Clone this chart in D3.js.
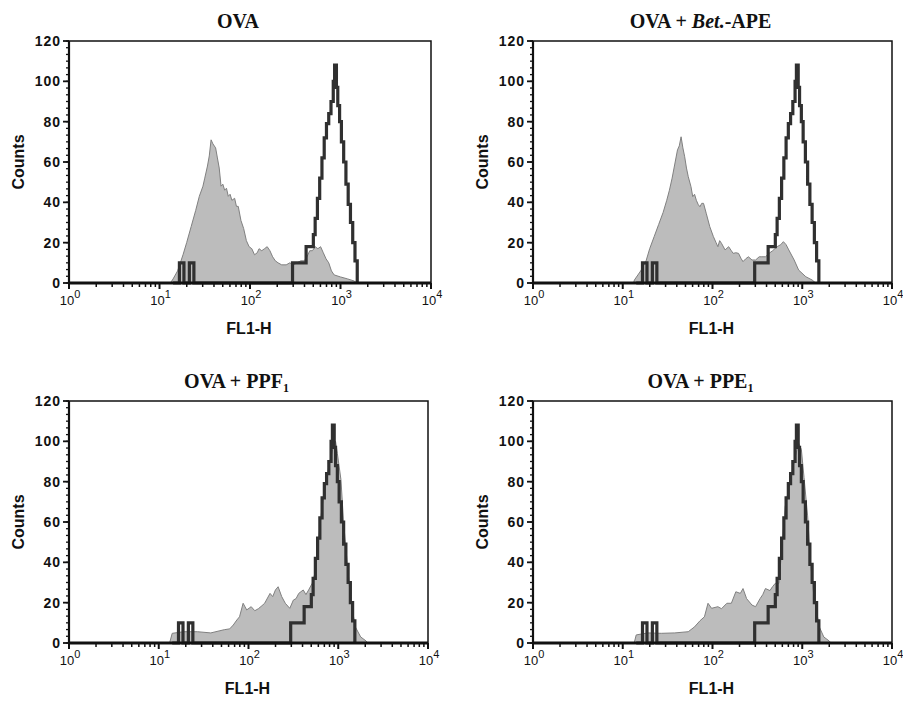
<!DOCTYPE html>
<html><head><meta charset="utf-8">
<script src="https://cdn.jsdelivr.net/npm/d3@7"></script>
<style>
html,body{margin:0;padding:0;background:#fff;}
svg{display:block;}
</style></head>
<body>
<svg id="chart" width="903" height="701"></svg>
<script>
// ---------- DATA (FL1-H positions given as log10 of channel value) ----------
const xTickValues = [1, 10, 100, 1000, 10000];
const xTickExps = ["0", "1", "2", "3", "4"];
const yTickValues = [0, 20, 40, 60, 80, 100, 120];

// black open histogram (control), step bins: log10 start of each bin and counts
const ctrlLogX = [1.15,1.22,1.27,1.33,1.38,2.47,2.62,2.70,2.72,2.745,2.77,2.795,2.82,2.845,2.87,2.895,2.92,2.935,2.955,2.97,2.99,3.01,3.035,3.06,3.085,3.11,3.135,3.16,3.185];
const ctrlCounts = [0,10,0,10,0,10,18,24,32,42,52,62,72,79,84,90,100,108,97,88,80,70,60,49,39,30,20,11,0];

// gray filled histograms
const ovaLogX   = [1.12,1.15,1.20,1.26,1.30,1.35,1.40,1.44,1.48,1.50,1.53,1.55,1.57,1.59,1.62,1.64,1.66,1.68,1.70,1.72,1.74,1.76,1.78,1.80,1.83,1.85,1.87,1.90,1.93,1.96,1.99,2.02,2.05,2.08,2.10,2.13,2.16,2.19,2.22,2.25,2.28,2.31,2.35,2.40,2.44,2.48,2.52,2.56,2.60,2.63,2.66,2.69,2.72,2.75,2.78,2.81,2.84,2.87,2.90,2.93,3.00,3.08,3.15,3.18];
const ovaCounts = [0,2,6,14,20,28,36,43,48,52,58,63,71,69,67,62,57,48,49,46,47,43,44,41,42,38,38,31,27,21,18,17,14,15,17,16,17,18,16,13,11,10,9,9,10,9,10,11,11,13,16,16,18,17,18,15,12,10,6,4,3,2,1,0];

const betLogX   = [1.12,1.13,1.20,1.26,1.30,1.35,1.40,1.45,1.49,1.52,1.55,1.58,1.61,1.63,1.65,1.67,1.69,1.71,1.73,1.76,1.78,1.80,1.82,1.84,1.86,1.88,1.90,1.93,1.97,2.01,2.04,2.06,2.08,2.10,2.14,2.18,2.21,2.23,2.26,2.29,2.32,2.34,2.37,2.40,2.44,2.48,2.52,2.55,2.59,2.63,2.67,2.72,2.76,2.79,2.82,2.85,2.91,2.96,3.04,3.11,3.15];
const betCounts = [0,1.5,6,11,17,23,29,35,41,46,52,59,66,68,72.5,67,62.6,57,52.7,47.8,42.8,44,41,39,37.8,39.5,39.5,34.6,27.9,23,20,18,21,19.7,16.4,18,16,14.7,15,14.7,12,10.6,12,13,11.4,11.4,13,13,13,14.7,16,18,19,20.5,19,16.4,11.4,6.4,3.1,1.5,0];

const ppfLogX   = [1.12,1.13,1.15,1.28,1.43,1.58,1.73,1.79,1.83,1.87,1.90,1.94,1.98,2.03,2.07,2.11,2.15,2.18,2.24,2.27,2.30,2.33,2.37,2.41,2.46,2.50,2.53,2.56,2.61,2.64,2.67,2.71,2.74,2.78,2.82,2.86,2.91,2.95,2.97,2.99,3.03,3.06,3.10,3.14,3.19,3.25,3.31,3.33];
const ppfCounts = [0,1.5,4.8,5.6,5.6,5,6.6,7,8.9,11.4,13,19.7,16.4,18,16,17,18.5,19.7,24.6,23,26.3,27.9,23,19.7,17.2,21.3,22,24.6,26.3,24,26.3,29.6,34.6,51,67.6,79,90.7,98,100,94,81,59.5,39.7,21,8,3,1,0];

const ppeLogX   = [1.12,1.13,1.15,1.28,1.43,1.58,1.73,1.80,1.86,1.91,1.95,1.99,2.06,2.10,2.16,2.21,2.26,2.31,2.34,2.38,2.44,2.48,2.53,2.56,2.59,2.64,2.67,2.70,2.74,2.78,2.81,2.87,2.92,2.96,2.99,3.02,3.06,3.09,3.13,3.19,3.24,3.30,3.32];
const ppeCounts = [0,0.5,4,5,4.8,5,5.6,8,11,13,19.7,17.2,18,17,19.7,19.7,25.4,24.6,27,22,18.8,18,22,24,27,26,28,29.6,29.6,51,67.6,81,92,99,96,82,63,41,23,8,3,1,0];

const titles = [
  [{t:"OVA"}],
  [{t:"OVA + "},{t:"Bet.",it:true},{t:"-APE"}],
  [{t:"OVA + PPF"},{t:"1",sub:true}],
  [{t:"OVA + PPE"},{t:"1",sub:true}]
];
const grayLogX = [ovaLogX, betLogX, ppfLogX, ppeLogX];
const grayCounts = [ovaCounts, betCounts, ppfCounts, ppeCounts];
const xLabel = "FL1-H";
const yLabel = "Counts";

// ---------- LAYOUT ----------
const panels = [
  {left:69,  top:41,  w:362, h:242},
  {left:533, top:41,  w:359, h:242},
  {left:69,  top:401, w:359, h:242},
  {left:533, top:401, w:359, h:242}
];

const svg = d3.select("#chart");

panels.forEach((p, i) => {
  const g = svg.append("g").attr("transform", `translate(${p.left},${p.top})`);
  const x = d3.scaleLog().domain([1, 10000]).range([0, p.w]);
  const y = d3.scaleLinear().domain([0, 120]).range([p.h, 0]);

  // gray filled histogram
  const gx = grayLogX[i].map(v => Math.pow(10, v));
  const gdata = gx.map((v, k) => [v, grayCounts[i][k]]);
  g.append("path")
    .datum(gdata)
    .attr("d", d3.area().x(d => x(d[0])).y0(y(0)).y1(d => y(d[1])))
    .attr("fill", "#bcbcbc");
  g.append("path")
    .datum(gdata)
    .attr("d", d3.line().x(d => x(d[0])).y(d => y(d[1])))
    .attr("fill", "none").attr("stroke", "#808080").attr("stroke-width", 1);

  // black open histogram
  const cdata = ctrlLogX.map((v, k) => [Math.pow(10, v), ctrlCounts[k]]);
  g.append("path")
    .datum(cdata)
    .attr("d", d3.line().curve(d3.curveStepAfter).x(d => x(d[0])).y(d => y(d[1])))
    .attr("fill", "none").attr("stroke", "#303030").attr("stroke-width", 3.2)
    .attr("stroke-linejoin", "miter");

  // frame (top/right thin)
  g.append("path")
    .attr("d", `M0,${p.h} V0 H${p.w} V${p.h}`)
    .attr("fill", "none").attr("stroke", "#111").attr("stroke-width", 1.5);

  // y axis
  const yMinor = d3.range(0, 120.001, 20/6);
  g.selectAll(".ymin").data(yMinor).enter().append("line")
    .attr("x1", -3).attr("x2", 0)
    .attr("y1", d => y(d)).attr("y2", d => y(d))
    .attr("stroke", "#111").attr("stroke-width", 1.3);
  g.selectAll(".ymaj").data(yTickValues).enter().append("line")
    .attr("x1", -6).attr("x2", 0)
    .attr("y1", d => y(d)).attr("y2", d => y(d))
    .attr("stroke", "#111").attr("stroke-width", 1.8);
  g.append("line").attr("x1", 0).attr("x2", 0).attr("y1", 0).attr("y2", p.h)
    .attr("stroke", "#111").attr("stroke-width", 2.2);
  g.selectAll(".ylab").data(yTickValues).enter().append("text")
    .attr("x", -8).attr("y", d => y(d) + 5)
    .attr("text-anchor", "end")
    .attr("font-family", "Liberation Sans, Arial, sans-serif")
    .attr("font-weight", "bold").attr("font-size", 14)
    .attr("letter-spacing", 1)
    .attr("fill", "#111")
    .text(d => d);

  // x axis
  const xMinor = [];
  [1, 10, 100, 1000].forEach(d => { for (let k = 2; k <= 9; k++) xMinor.push(k * d); });
  g.selectAll(".xmin").data(xMinor).enter().append("line")
    .attr("x1", d => x(d)).attr("x2", d => x(d))
    .attr("y1", p.h).attr("y2", p.h + 4)
    .attr("stroke", "#111").attr("stroke-width", 1.5);
  g.selectAll(".xmaj").data(xTickValues).enter().append("line")
    .attr("x1", d => x(d)).attr("x2", d => x(d))
    .attr("y1", p.h).attr("y2", p.h + 6)
    .attr("stroke", "#111").attr("stroke-width", 2);
  g.append("line").attr("x1", 0).attr("x2", p.w).attr("y1", p.h).attr("y2", p.h)
    .attr("stroke", "#111").attr("stroke-width", 3);
  const xl = g.selectAll(".xlab").data(xTickValues).enter().append("text")
    .attr("x", d => x(d) + 1).attr("y", p.h + 22)
    .attr("text-anchor", "middle")
    .attr("font-family", "Liberation Sans, Arial, sans-serif")
    .attr("font-size", 13).attr("fill", "#111");
  xl.append("tspan").text("10");
  xl.append("tspan").attr("dy", -7).attr("font-size", 11).text((d, k) => xTickExps[k]);

  // axis titles
  g.append("text")
    .attr("x", p.w / 2 - 1).attr("y", p.h + 51)
    .attr("text-anchor", "middle")
    .attr("font-family", "Liberation Sans, Arial, sans-serif")
    .attr("font-weight", "bold").attr("font-size", 16).attr("fill", "#111")
    .text(xLabel);
  g.append("text")
    .attr("transform", `translate(${-51},${p.h / 2}) rotate(-90)`)
    .attr("text-anchor", "middle")
    .attr("dy", "0.35em")
    .attr("font-family", "Liberation Sans, Arial, sans-serif")
    .attr("font-weight", "bold").attr("font-size", 16).attr("fill", "#111")
    .text(yLabel);

  // title
  const tt = g.append("text")
    .attr("x", p.w / 2 - 12).attr("y", -13)
    .attr("text-anchor", "middle")
    .attr("font-family", "Liberation Serif, Times New Roman, serif")
    .attr("font-weight", "bold").attr("font-size", 20).attr("fill", "#111");
  titles[i].forEach(s => {
    const ts = tt.append("tspan").text(s.t);
    if (s.it) ts.attr("font-style", "italic");
    if (s.sub) ts.attr("font-size", 12).attr("dy", 4);
  });
});
</script>
</body></html>
